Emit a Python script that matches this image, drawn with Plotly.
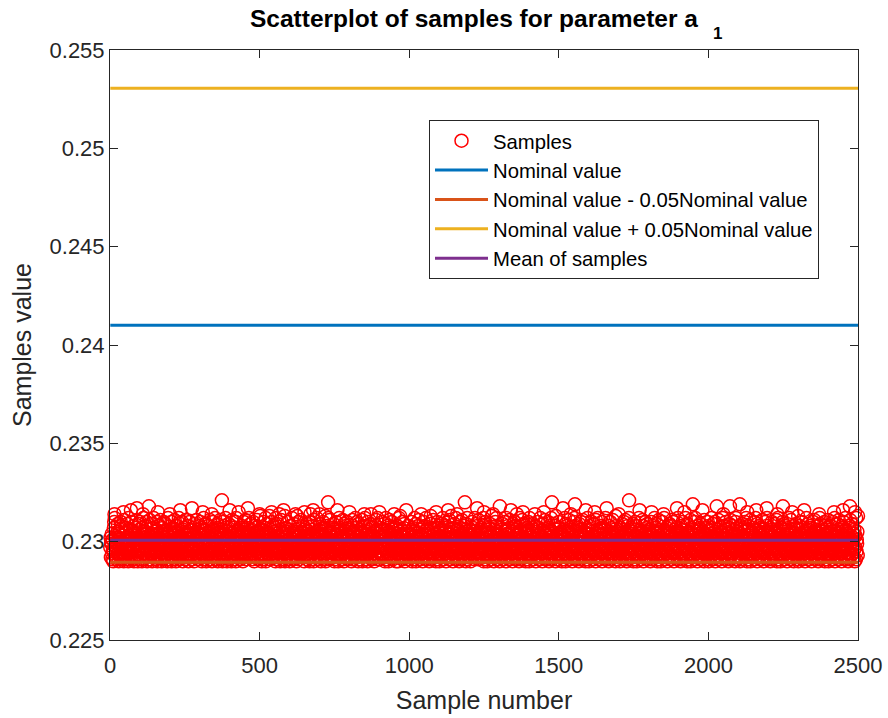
import plotly.graph_objects as go

# ---------------- data ----------------
# Samples are stored as one code per sample: code k -> 0.2290 + k * 0.0001
code_alphabet = "0123456789abcdefghijklmnopqrstuv"
sample_base = 0.2290
sample_step = 0.0001
sample_codes = """
7c2a9e41b6 05hk3m8d2c 9a16fj4b0e c37g2k5i81 a4d9e0l6b3 2hf58c1ja7 0m4b9d63ge 5k2c8a1fi0 b7e3h9d2l4 6a0c5jg81k
3d9b6e0ha2 m14c8f5b7i 2ke09a6d3g 81lc4b7e5j 0a9h2m6c3f d5b18gk0e4 7i3a6c9l2b f40d8h1e5k 9c2j7a3g6b 0e5m1d8f4i
a6c3k09e2h 5b7d1l4g8a 0f3i6c9b2m e18d5j3a7k 4c0g9b6h2e 1l5a8d3f7c i09b4k2e6g 3a7m1c5h8d 0j6e2b9f4l 8c3a5g1i7e
2k9d6b0h4f a3m7e1c8g5 j02b6d9i3e 4a8l1f5c7h 0g3k9b2d6e m5a1c8h4j0 7e2f9b3l6d a1g5c0k8i4 3e7b2m6h9f 0d4a8j1c5g
b6e3i09l2a 7c4h1f8d5k 0m3b9g6e2j a5d8c1h4f7 i2b0e9k3g6 4l7a1d5c8h 0f3m6b2e9j 5a8g1c4k7d e0i3b6h9f2 l5a8d1c4g7
9n2c6a0g4e 1d8k3b7h5m 06f2j9c4a8 e3n1b5g7d0 k6a2i8c4f9 3h0m5b1e7j 8d2a6o4c0g 5l9b3f7e1i 2c6n0a8h4d 9f3k7b1g5e
0i4c8a2m6d 7b1f5j9e3h 6g0c4n8a2k 1e5d9b3l7f 4a8i2c6g0m 5h9b3e7d1j 8f2c6a0k4o 3b7g1e5i9d 0l4a8c2h6f m9b3d7e1g5
2j6c0a4f8e 5k9b3d7h1n 0g4i8c2a6m 7e1l5b9f3d a4c8h2j6g0 1b5e9k3d7i 6f0a4m8c2h 9g3b7e1l5d c0j4a8f2i6 3k7e1b5h9n
8d2g6a0c4l 1i5f9b3e7m 4h8c2k6a0j 7d1g5e9b3f a6l0c4i8h2 5m9b3d7f1e 0k4a8g2c6j 3o7e1b5h9d 6c0f4a8i2l 9g3m7b1e5d
1a5h9c3f7k 4e8b2j6d0g 7m1c5a9i3h 0f4l8b2e6d 3k7g1c5a9j b2e6h0d4i8 6a0c4m8f2n 9b3g7e1k5d 2h6j0a4c8l 5f9d3b7i1e
e4a8c2k6g0 3h7b1f5m9d 6j0e4a8c2i 9l3g7b1d5f 2c6a0h4k8e 5i9d3m7b1g 8e2f6c0a4j 1n5h9b3d7l 4g8a2e6c0m 7b1k5f9i3h
0d4c8g2a6j 3m7e1b5h9f 6a0i4c8k2d 9e3l7g1b5n a2f6c0h4d8 5j9b3m7e1i 8c2g6a0f4k 1h5d9l3b7e 4a8i2c6g0j 7f1m5e9b3d
2g6b0d4a8k 5c9h3f7e1m 8a2j6d0i4c 1l5e9b3g7h 4f8c2a6m0d 7i1k5b9e3g 0c4h8a2f6j 3e7d1n5b9l 6a0g4c8k2i 9m3f7e1d5b
c0e4h8a2g6 3j7b1d5k9f 6c0m4a8e2i 9g3h7l1b5d 2a6f0c4j8e 5k9i3d7b1o 8h2a6e0c4m 1f5g9b3l7d 4c8j2a6i0e 7b1h5f9k3g
0m4d8c2a6h 3e7j1g5b9l 6i0a4f8c2k 9d3h7e1m5b 2c6g0a4j8i 5f9l3d7b1e 8a2k6c0h4g 1e5m9b3f7d 4j8a2i6c0n 7g1d5e9b3k
a4h8c2f6e0 3b7k1g5d9m 6c0j4a8i2e 9f3l7h1b5d 2a6e0c4g8k 5m9b3i7d1f 8h2c6a0j4e 1g5k9b3e7l 4d8f2a6c0i 7e1h5m9b3g
0c4i8a2e6k 3f7d1j5b9h 6a0l4c8g2m 9b3e7f1d5i 2h6k0a4c8e 5d9g3m7b1j 8c2a6i0e4f 1k5b9h3d7l 4e8c2g6a0n 7i1f5d9b3m
2e6a0h4c8g 5j9d3b7k1f 8l2c6e0a4i 1b5m9g3d7h 4c8f2a6j0e 7d1k5b9i3g 0a4e8c2m6h 3g7b1f5d9l 6i0c4a8e2k 9b3h7j1d5f
c2g6a0e4k8 1d5i9b3f7m 4h8c2a6j0e 7f1l5d9b3g 0a4c8k2e6i 3m7g1b5d9h 6e0a4f8c2j 9b3i7d1l5e 2k6a0c4g8f 5h9e3b7m1d
8a2f6c0i4e 1g5k9d3b7h 4c8m2a6e0j 7i1f5b9d3l 0e4h8c2a6g 3b7k1m5d9f 6a0c4i8e2h 9j3g7b1d5n 2f6a0l4c8e 5d9h3b7k1i
0g4c8a2e6m 3h7d1j5b9f 6k0a4c8i2e 9b3l7g1d5h 2a6f0c4m8e 5i9d3b7k1g 8c2e6a0h4j 1f5l9b3d7i 4a8g2c6e0k 7m1d5h9b3f
e2a6c0i4g8 1j5d9b3f7h 4k8a2m6c0e 7g1i5d9b3l 0c4a8f2e6h 3d7k1b5m9g 6a0j4c8e2i 9f3h7d1b5l 2e6g0a4c8k 5b9i3m7d1f
8c2a6h0e4g 1k5d9f3b7j 4a8e2c6l0i 7m1g5d9b3h 0e4c8a2k6f 3j7b1i5d9g 6c0a4e8h2m 9d3f7l1b5k 2a6i0c4e8g 5h9j3d7b1n
0a4e8i2c6g 3k7d1h5b9l 6f0c4a8m2e 9b3j7g1d5i 2h6a0e4c8k 5d9l3b7f1g 8a2c6i0e4h 1m5j9d3b7f 4c8a2g6k0e 7i1d5h9b3l
c0e4a8g2i6 3f7b1k5d9h 6m0c4a8e2j 9d3g7l1b5f 2a6c0i4h8e 5k9b3d7m1g 8f2e6a0c4i 1h5l9d3b7j 4a8c2e6g0k 7d1m5b9f3n
"""
# isolated high samples: sample number and code
peak_samples = [90, 130, 274, 374, 461, 679, 729, 1186, 1227, 1303, 1477, 1514,
                1554, 1660, 1735, 1895, 1948, 2028, 2072, 2105, 2195, 2249, 2473]
peak_codes = ["r", "s", "r", "v", "r", "q", "u", "u", "r", "s", "u", "r",
              "t", "r", "v", "r", "t", "s", "s", "t", "r", "s", "s"]
# samples along the ragged upper edge of the band
edge_samples = [15, 45, 70, 110, 160, 200, 235, 310, 340, 400, 430, 500, 540,
                580, 620, 650, 700, 760, 800, 850, 900, 950, 990, 1040, 1090,
                1130, 1160, 1250, 1280, 1340, 1380, 1420, 1450, 1540, 1590,
                1620, 1700, 1770, 1810, 1850, 1920, 1980, 2050, 2130, 2160,
                2230, 2280, 2320, 2370, 2420, 2450, 2490]
edge_codes = ["o", "p", "q", "o", "p", "o", "q", "p", "o", "q", "p", "o", "p",
              "q", "o", "p", "o", "q", "p", "o", "p", "o", "q", "o", "p",
              "q", "o", "p", "o", "q", "p", "o", "p", "o", "q",
              "p", "o", "q", "p", "o", "p", "q", "o", "p", "q",
              "o", "p", "q", "o", "p", "q", "p"]

nominal_value = 0.241
mean_of_samples = 0.23007
tolerance = 0.05
sample_range = [1, 2500]

x_ticks = [0, 500, 1000, 1500, 2000, 2500]
x_ticktext = ["0", "500", "1000", "1500", "2000", "2500"]
y_ticks = [0.225, 0.23, 0.235, 0.24, 0.245, 0.25, 0.255]
y_ticktext = ["0.225", "0.23", "0.235", "0.24", "0.245", "0.25", "0.255"]

title_main = "Scatterplot of samples for parameter a"
title_subscript = "1"

# ---------------- build ----------------
codes = [c for c in sample_codes if not c.isspace()]
for n, c in list(zip(edge_samples, edge_codes)) + list(zip(peak_samples, peak_codes)):
    if n - 1 < len(codes):
        codes[n - 1] = c
samples = [sample_base + sample_step * code_alphabet.index(c) for c in codes]
sample_numbers = list(range(1, len(samples) + 1))

lower = nominal_value - tolerance * nominal_value
upper = nominal_value + tolerance * nominal_value

FONT = "Liberation Sans, Arial, Helvetica, sans-serif"
AX = "#262626"
W, H = 888, 718
ML, MR, MT, MB = 110, 30, 50, 78
PW, PH = W - ML - MR, H - MT - MB

fig = go.Figure()
fig.add_trace(go.Scatter(
    x=sample_numbers, y=samples, mode="markers", name="Samples",
    marker=dict(symbol="circle-open", size=13, color="#FF0000",
                line=dict(width=1.5, color="#FF0000")),
    cliponaxis=False,
))
fig.add_trace(go.Scatter(x=sample_range, y=[nominal_value] * 2, mode="lines",
                         name="Nominal value", line=dict(color="#0072BD", width=3)))
fig.add_trace(go.Scatter(x=sample_range, y=[lower] * 2, mode="lines",
                         name="Nominal value - 0.05Nominal value",
                         line=dict(color="#D95319", width=3)))
fig.add_trace(go.Scatter(x=sample_range, y=[upper] * 2, mode="lines",
                         name="Nominal value + 0.05Nominal value",
                         line=dict(color="#EDB120", width=3)))
fig.add_trace(go.Scatter(x=sample_range, y=[mean_of_samples] * 2, mode="lines",
                         name="Mean of samples",
                         line=dict(color="#7E2F8E", width=3)))

axis_common = dict(
    showline=True, linecolor=AX, linewidth=1, mirror="ticks",
    ticks="inside", ticklen=8, tickcolor=AX, tickwidth=1,
    showgrid=False, zeroline=False, automargin=False,
    tickfont=dict(size=22, color=AX, family=FONT),
)

fig.update_layout(
    width=W, height=H,
    margin=dict(l=ML, r=MR, t=MT, b=MB, autoexpand=False),
    paper_bgcolor="white", plot_bgcolor="white",
    font=dict(family=FONT, color=AX),
    title=dict(
        text="<b>" + title_main + "</b>",
        font=dict(size=24.5, color="#000000", family=FONT),
        x=474 / W, xref="container", xanchor="center",
        y=1 - 18 / H, yref="container", yanchor="middle",
    ),
    xaxis=dict(range=[0, 2500], tickvals=x_ticks, ticktext=x_ticktext,
               ticklabelstandoff=6,
               title=dict(text="Sample number", font=dict(size=25, color=AX, family=FONT),
                          standoff=14),
               **axis_common),
    yaxis=dict(range=[0.225, 0.255], tickvals=y_ticks, ticktext=y_ticktext,
               title=dict(text="Samples value", font=dict(size=25, color=AX, family=FONT),
                          standoff=10),
               **axis_common),
    legend=dict(
        x=(429 - ML) / PW, y=(H - MB - 120) / PH, xanchor="left", yanchor="top",
        bgcolor="white", bordercolor=AX, borderwidth=1, itemwidth=53,
        font=dict(size=20.3, color="#000000", family=FONT),
    ),
    showlegend=True,
)

fig.add_annotation(
    text="<b>" + title_subscript + "</b>", xref="paper", yref="paper",
    x=(717 - ML) / PW, y=(H - MB - 34) / PH, xanchor="center", yanchor="middle",
    showarrow=False, font=dict(size=17, color="#000000", family=FONT),
)

fig.write_html("out.html")
